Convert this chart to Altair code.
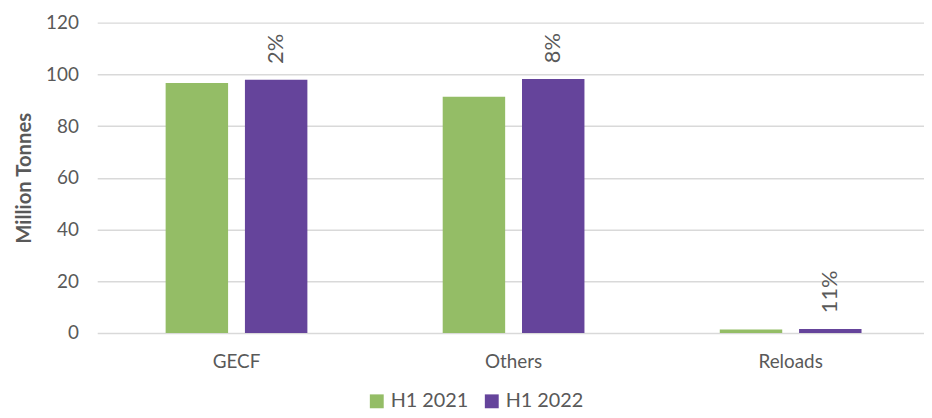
import altair as alt
import pandas as pd

categories = ["GECF", "Others", "Reloads"]
h1_2021 = [96.7, 91.3, 1.35]
h1_2022 = [97.9, 98.2, 1.5]
growth_labels = ["2%", "8%", "11%"]
series = ["H1 2021", "H1 2022"]
colors = ["#94BD66", "#65449B"]
y_ticks = [0, 20, 40, 60, 80, 100, 120]

rows = []
for i, c in enumerate(categories):
    rows.append({"cat": c, "series": series[0], "value": h1_2021[i], "label": ""})
    rows.append({"cat": c, "series": series[1], "value": h1_2022[i], "label": growth_labels[i]})
df = pd.DataFrame(rows)

FONT = "Lato"
GRAY = "#595959"

x = alt.X(
    "cat:N", sort=categories, title=None,
    scale=alt.Scale(paddingInner=0.4884, paddingOuter=0.2362, align=0.5227),
    axis=alt.Axis(labelAngle=0, domain=False, ticks=False, labelPadding=20,
                  labelFontSize=19, labelColor=GRAY, labelFont=FONT, grid=False),
)
xoff = alt.XOffset("series:N", sort=series, scale=alt.Scale(paddingInner=0.2125, paddingOuter=0))
y = alt.Y(
    "value:Q", scale=alt.Scale(domain=[0, 120], nice=False),
    axis=alt.Axis(values=y_ticks, title="Million Tonnes", domain=False, ticks=False,
                  labelPadding=19, labelFontSize=19, labelColor=GRAY, labelFont=FONT,
                  gridColor="#D9D9D9", gridWidth=1.5,
                  titleFont=FONT, titleFontSize=20.5, titleFontWeight="bold",
                  titleColor=GRAY, titlePadding=11),
)

bars = alt.Chart(df).mark_bar().encode(
    x=x, xOffset=xoff, y=y,
    color=alt.Color(
        "series:N", sort=series,
        scale=alt.Scale(domain=series, range=colors),
        legend=alt.Legend(orient="none", legendX=272, legendY=372, direction="horizontal",
                          title=None, symbolType="square", symbolSize=196, symbolStrokeWidth=0,
                          labelFontSize=20, labelColor=GRAY, labelFont=FONT,
                          columnPadding=13, labelOffset=4),
    ),
)

text = alt.Chart(df).mark_text(
    angle=270, align="left", baseline="middle", dx=16, fontSize=22, font=FONT, color=GRAY
).encode(x=x, xOffset=xoff, y=y, text="label:N")

chart = (
    alt.layer(bars, text)
    .properties(width=834, height=313, background="white",
                autosize=alt.AutoSizeParams(type="none"),
                padding={"left": 90, "top": 13, "right": 0, "bottom": 76})
    .configure_view(strokeWidth=0, strokeOpacity=0)
)

chart.save("out.html", embed_options={"renderer": "svg", "actions": False})
